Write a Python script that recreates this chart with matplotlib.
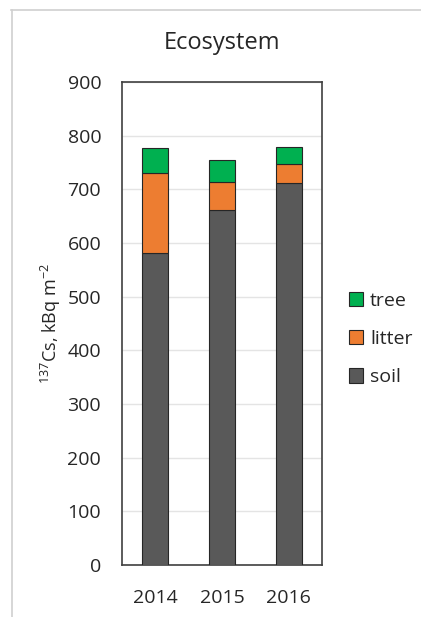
import numpy as np
import matplotlib.pyplot as plt
from matplotlib.lines import Line2D

years = ['2014', '2015', '2016']
soil = [582, 662, 711]
litter = [148, 52, 36]
tree = [47, 41, 31]

plt.rcParams['font.family'] = ['Open Sans', 'DejaVu Sans']
plt.rcParams['mathtext.fontset'] = 'custom'
plt.rcParams['mathtext.rm'] = 'Open Sans'
plt.rcParams['mathtext.default'] = 'rm'

fig = plt.figure(figsize=(4.21, 6.17), dpi=100)
W, H = 421, 617
ax = fig.add_axes([122 / W, 1 - 565 / H, 200 / W, 483 / H])

x = np.arange(len(years))
bw = 0.39
ax.bar(x, soil, bw, color='#595959', edgecolor='#262626', linewidth=0.8, label='soil', zorder=3)
ax.bar(x, litter, bw, bottom=soil, color='#ed7d31', edgecolor='#262626', linewidth=0.8, label='litter', zorder=3)
ax.bar(x, tree, bw, bottom=np.add(soil, litter), color='#00b050', edgecolor='#262626', linewidth=0.8, label='tree', zorder=3)

ax.set_xlim(-0.5, 2.5)
ax.set_ylim(0, 900)
ax.set_yticks(range(0, 901, 100))
ax.set_xticks(x)
ax.set_xticklabels(years)
ax.tick_params(length=0, labelsize=14, colors='#262626')
ax.tick_params(axis='x', pad=17)
ax.tick_params(axis='y', pad=15)
ax.yaxis.grid(True, color='#e4e4e4', linewidth=1, zorder=0)
for s in ax.spines.values():
    s.set_color('#404040')
    s.set_linewidth(1.2)

ax.set_ylabel(r'$^{137}$Cs, kBq m$^{-2}$', fontsize=13, color='#262626', labelpad=3)
ax.set_title('Ecosystem', fontsize=17, color='#262626', pad=24)

h, l = ax.get_legend_handles_labels()
ax.legend(h[::-1], l[::-1], loc='center left', bbox_to_anchor=(1.095, 0.468), frameon=False,
          fontsize=14, handlelength=0.75, handleheight=0.75, handletextpad=0.35, labelspacing=1.05,
          labelcolor='#262626', borderaxespad=0)

# light frame around the figure
fig.add_artist(Line2D([11 / W, 1], [1 - 9.5 / H, 1 - 9.5 / H], color='#d0d0d0', linewidth=1.2))
fig.add_artist(Line2D([11.5 / W, 11.5 / W], [0, 1 - 9.5 / H], color='#d0d0d0', linewidth=1.2))

fig.savefig('out.png', dpi=100, facecolor='white')
